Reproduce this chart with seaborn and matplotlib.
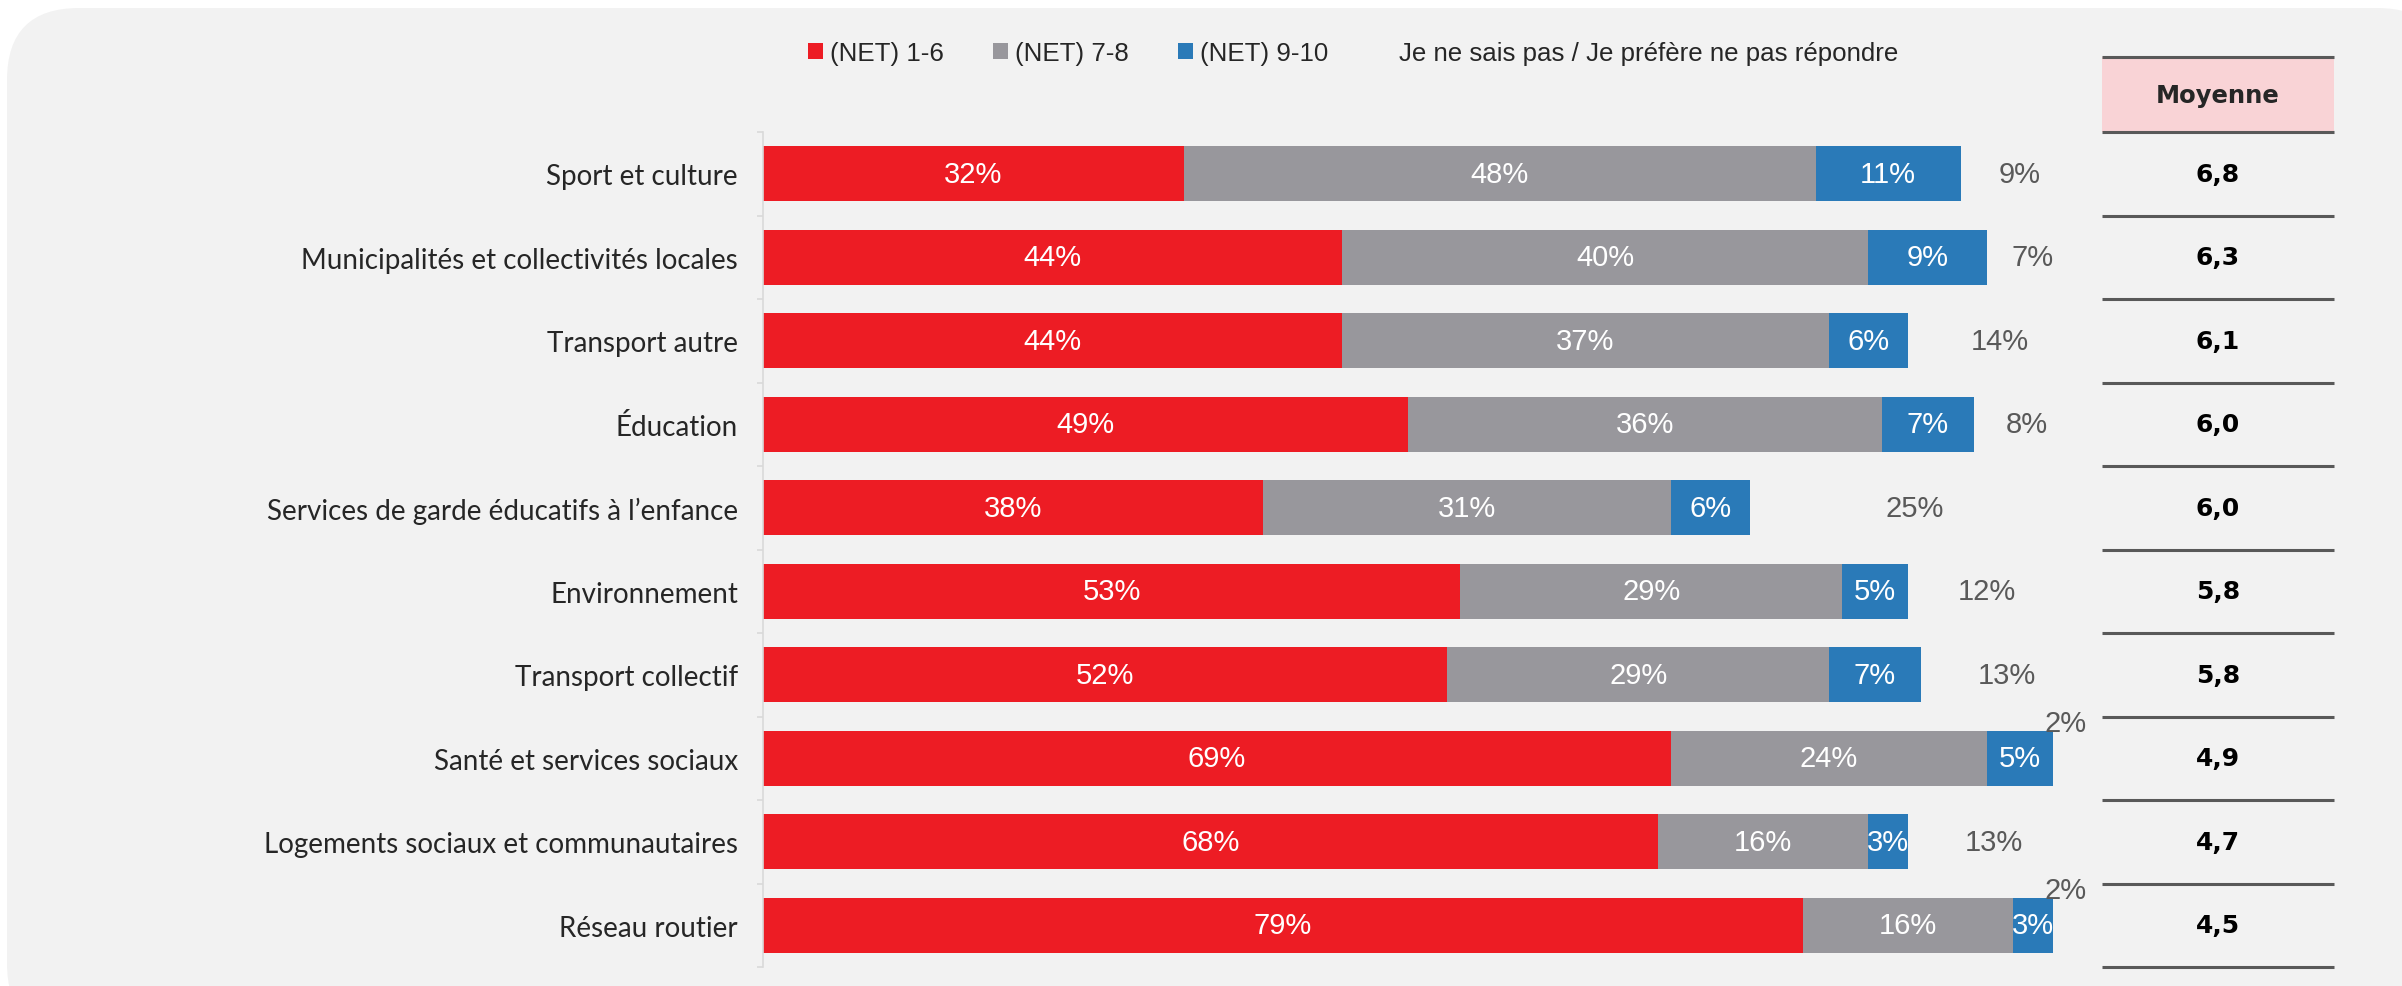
import matplotlib
matplotlib.use("Agg")
import matplotlib.pyplot as plt
import matplotlib.transforms as mtransforms
from matplotlib.patches import FancyBboxPatch, Rectangle, Patch
import seaborn as sns
import numpy as np

# ---------------- data ----------------
categories = [
    "Sport et culture",
    "Municipalités et collectivités locales",
    "Transport autre",
    "Éducation",
    "Services de garde éducatifs à l’enfance",
    "Environnement",
    "Transport collectif",
    "Santé et services sociaux",
    "Logements sociaux et communautaires",
    "Réseau routier",
]
net_1_6 = [32, 44, 44, 49, 38, 53, 52, 69, 68, 79]
net_7_8 = [48, 40, 37, 36, 31, 29, 29, 24, 16, 16]
net_9_10 = [11, 9, 6, 7, 6, 5, 7, 5, 3, 3]
dont_know = [9, 7, 14, 8, 25, 12, 13, 2, 13, 2]
moyenne = ["6,8", "6,3", "6,1", "6,0", "6,0", "5,8", "5,8", "4,9", "4,7", "4,5"]
legend_labels = ["(NET) 1-6", "(NET) 7-8", "(NET) 9-10",
                 "Je ne sais pas / Je préfère ne pas répondre"]
table_header = "Moyenne"

# ---------------- style ----------------
RED = "#ED1C24"
GRAY = "#98979C"
BLUE = "#2A7AB8"
DKCOL = "#595959"
TXT = "#262626"
BG = "#F2F2F2"

sns.set_theme(style="white")
plt.rcParams["font.family"] = ["Liberation Sans", "DejaVu Sans"]

W, H = 2402, 987
fig = plt.figure(figsize=(W / 100, H / 100), dpi=100)
fig.patch.set_facecolor("white")

# rounded background panel
bg = FancyBboxPatch((7 / W, -0.05), (W + 40) / W, (H - 9) / H + 0.05,
                    boxstyle="round,pad=0,rounding_size=0.03",
                    mutation_aspect=W / H,
                    transform=fig.transFigure, facecolor=BG, edgecolor="none",
                    zorder=-10)
fig.patches.append(bg)

ax_left, ax_right = 763 / W, 2079 / W
ax_top, ax_bot = 1 - 133 / H, 1 - 968 / H
ax = fig.add_axes([ax_left, ax_bot, ax_right - ax_left, ax_top - ax_bot])
ax.set_facecolor("none")

n16 = np.array(net_1_6, dtype=float)
n78 = np.array(net_7_8, dtype=float)
n910 = np.array(net_9_10, dtype=float)
dk = np.array(dont_know, dtype=float)
cum2 = n16 + n78
cum3 = cum2 + n910

bw = 0.66
sns.barplot(x=cum3, y=categories, orient="h", color=BLUE, saturation=1,
            width=bw, linewidth=0, ax=ax)
sns.barplot(x=cum2, y=categories, orient="h", color=GRAY, saturation=1,
            width=bw, linewidth=0, ax=ax)
sns.barplot(x=n16, y=categories, orient="h", color=RED, saturation=1,
            width=bw, linewidth=0, ax=ax)

ax.set_xlim(0, 100)
ax.set_ylim(len(categories) - 0.5, -0.5)
ax.set_xlabel("")
ax.set_ylabel("")
ax.set_xticks([])

# value labels
fs_val = 21
for i in range(len(categories)):
    ax.text(n16[i] / 2, i, f"{int(n16[i])}%", ha="center", va="center",
            color="white", fontsize=fs_val)
    ax.text(n16[i] + n78[i] / 2, i, f"{int(n78[i])}%", ha="center", va="center",
            color="white", fontsize=fs_val)
    ax.text(cum2[i] + n910[i] / 2, i, f"{int(n910[i])}%", ha="center", va="center",
            color="white", fontsize=fs_val)
    if dk[i] >= 4:
        ax.text(cum3[i] + dk[i] / 2, i, f"{int(dk[i])}%", ha="center", va="center",
                color=DKCOL, fontsize=fs_val)
    else:
        ax.text(cum3[i] + dk[i] / 2, i - 0.42, f"{int(dk[i])}%", ha="center",
                va="center", color=DKCOL, fontsize=fs_val, clip_on=False)

# spines & ticks
for s in ["top", "right", "bottom"]:
    ax.spines[s].set_visible(False)
ax.spines["left"].set_color("#D9D9D9")
ax.spines["left"].set_linewidth(1.2)
ax.tick_params(axis="y", which="major", length=0, pad=18, labelsize=20,
               labelcolor=TXT)
for lab in ax.get_yticklabels():
    lab.set_fontfamily(["Lato", "DejaVu Sans"])
ax.set_yticks(np.arange(-0.5, len(categories), 1.0), minor=True)
ax.tick_params(axis="y", which="minor", length=4, width=1.2, color="#D9D9D9",
               left=True)

# ---------------- table ----------------
trans = mtransforms.blended_transform_factory(fig.transFigure, ax.transData)
tx0, tx1 = 2102 / W, 2334 / W
hdr_h = (132 - 57) / 83.6
ax.add_patch(Rectangle((tx0, -0.5 - hdr_h), tx1 - tx0, hdr_h, transform=trans,
                       facecolor="#F9D3D6", edgecolor="none", clip_on=False,
                       zorder=1))
for yv in [-0.5 - hdr_h] + list(np.arange(-0.5, len(categories), 1.0)):
    ax.plot([tx0, tx1], [yv, yv], transform=trans, color="#595959", lw=2.2,
            clip_on=False, solid_capstyle="butt", zorder=2)
ax.text((tx0 + tx1) / 2, -0.5 - hdr_h / 2, table_header, transform=trans,
        ha="center", va="center", fontsize=17.5, fontweight="bold",
        color=TXT, family=["DejaVu Sans"])
for i, m in enumerate(moyenne):
    ax.text((tx0 + tx1) / 2, i, m, transform=trans, ha="center", va="center",
            fontsize=18, fontweight="bold", color="black",
            family=["DejaVu Sans"])

# ---------------- legend ----------------
handles = [Patch(facecolor=RED, edgecolor="none"),
           Patch(facecolor=GRAY, edgecolor="none"),
           Patch(facecolor=BLUE, edgecolor="none"),
           Patch(facecolor="none", edgecolor="none")]
fig.legend(handles, legend_labels, loc="center",
           bbox_to_anchor=(1353 / W, 1 - 54 / H), ncol=4, frameon=False,
           fontsize=18.6, handlelength=0.6, handleheight=0.6, handletextpad=0.25,
           columnspacing=1.9, labelcolor=TXT)

fig.savefig("out.png", dpi=100, facecolor="white")
